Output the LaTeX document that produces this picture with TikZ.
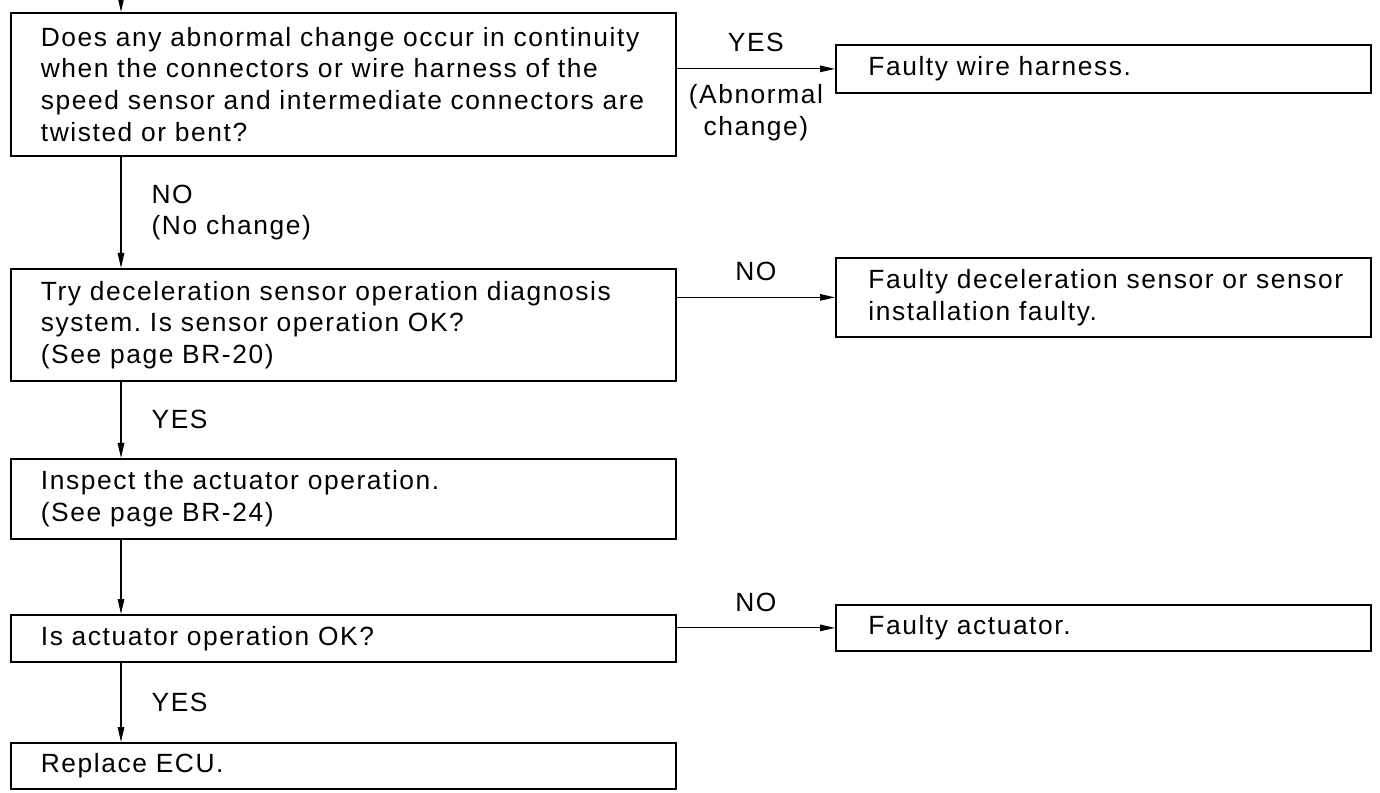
\documentclass[tikz,border=0pt]{standalone}
\usepackage{fontspec}
\setmainfont{Liberation Sans}[LetterSpace=6]
\frenchspacing
\usetikzlibrary{arrows.meta,positioning}
\tikzset{
  >={Triangle[length=3mm,width=1.3mm]},
  every node/.style={font=\fontsize{15}{18}\selectfont},
  query/.style={draw,line width=1pt,inner xsep=2.5mm,inner ysep=0pt,
    text width=12.8cm,minimum height=#1,align=left,anchor=north west,
    execute at begin node={\leftskip=3.5mm}},
  fault/.style={draw,line width=1pt,inner xsep=2mm,inner ysep=0pt,
    text width=10.3cm,minimum height=#1,align=left,anchor=north west,
    execute at begin node={\leftskip=4.5mm}},
  flow/.style={->,line width=0.7pt},
  tag/.style={align=left,inner sep=0pt},
}

\begin{document}
\begin{tikzpicture}
  \useasboundingbox (0,0) rectangle (27.6,-15.86);
  % checks down the left
  \node[query=2.86cm] (q1) at (0.2,-0.24) {Does any abnormal change occur in continuity\\when the connectors or wire harness of the\\speed sensor and intermediate connectors are\\twisted or bent?};
  \node[query=2.24cm] (q2) at (0.2,-5.36) {Try deceleration sensor operation diagnosis\\system. Is sensor operation OK?\\(See page BR-20)};
  \node[query=1.6cm] (q3) at (0.2,-9.16) {Inspect the actuator operation.\\(See page BR-24)};
  \node[query=0.94cm] (q4) at (0.2,-12.28) {Is actuator operation OK?};
  \node[query=0.92cm] (q5) at (0.2,-14.84) {Replace ECU.};
  % faults on the right
  \node[fault=0.96cm] (f1) at (16.7,-0.88) {Faulty wire harness.};
  \node[fault=1.58cm] (f2) at (16.7,-5.14) {Faulty deceleration sensor or sensor\\installation faulty.};
  \node[fault=0.92cm] (f3) at (16.7,-12.08) {Faulty actuator.};

  \coordinate (in) at (2.42,0);
  \draw[flow] (in) -- (in |- q1.north);
  \draw[flow] (q1.south -| in) -- node[tag,right=6mm] {NO\\(No change)} (q2.north -| in);
  \draw[flow] (q2.south -| in) -- node[tag,right=6mm] {YES} (q3.north -| in);
  \draw[flow] (q3.south -| in) -- (q4.north -| in);
  \draw[flow] (q4.south -| in) -- node[tag,right=6mm] {YES} (q5.north -| in);

  \draw[flow] (q1.east |- f1.west) -- node[tag,above=3.2mm] {YES}
    node[tag,below=3mm,align=center] {(Abnormal\\change)} (f1.west);
  \draw[flow] (q2.east |- f2.west) -- node[tag,above=3.2mm] {NO} (f2.west);
  \draw[flow] (q4.east |- f3.west) -- node[tag,above=3.2mm] {NO} (f3.west);
\end{tikzpicture}
\end{document}
